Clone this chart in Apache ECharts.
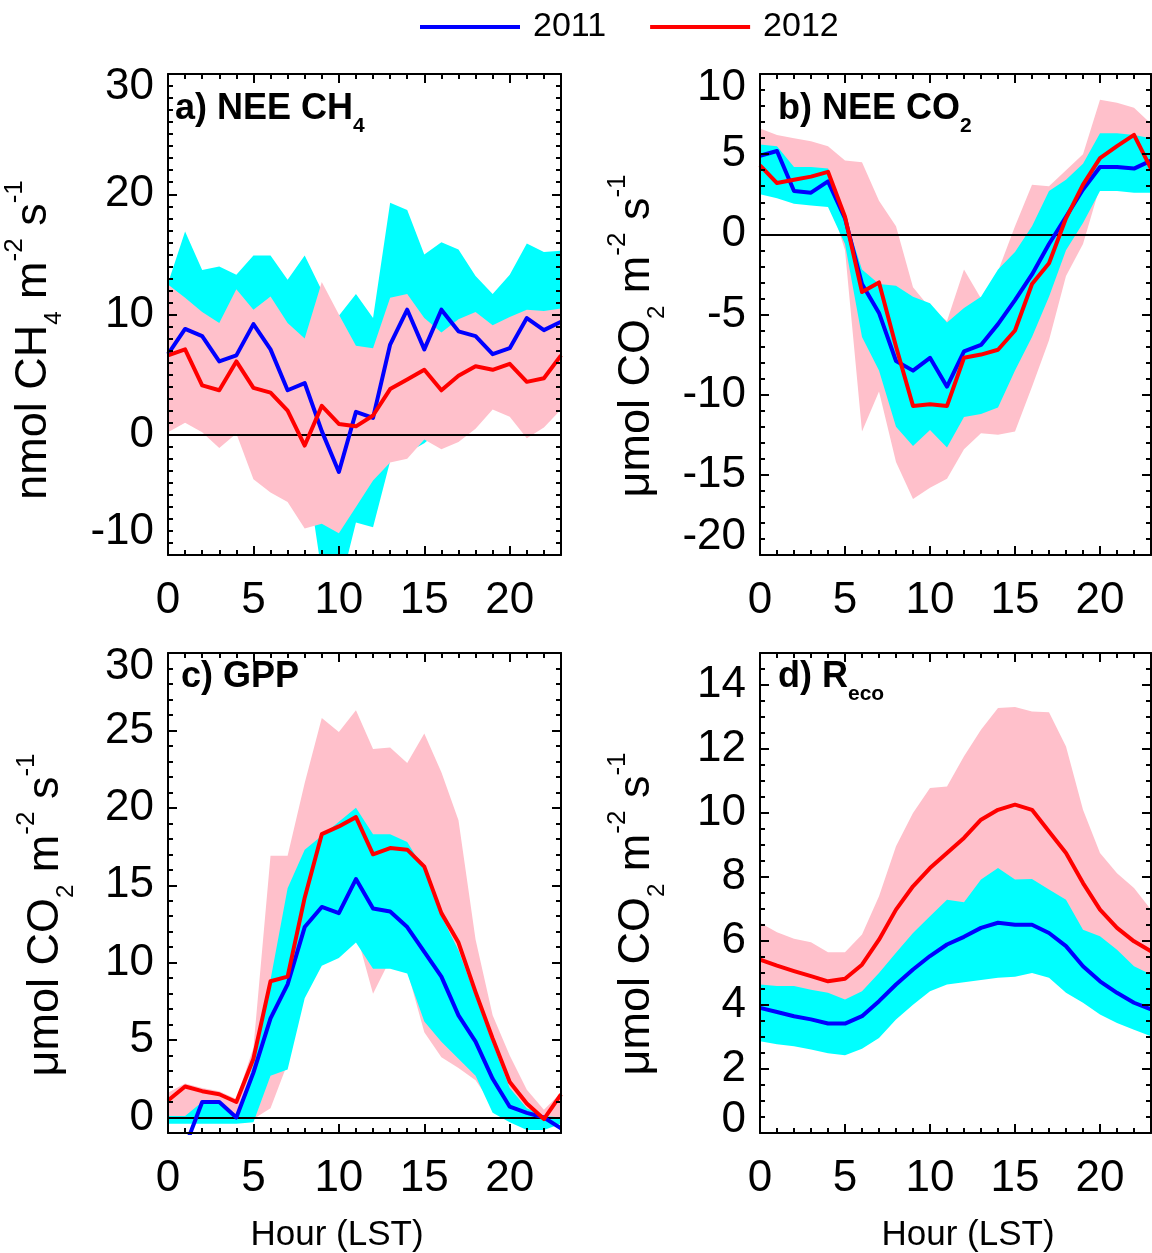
<!DOCTYPE html>
<html>
<head>
<meta charset="utf-8">
<script src="https://cdn.jsdelivr.net/npm/echarts@6/dist/echarts.min.js"></script>
<style>
html, body { margin: 0; padding: 0; background: #fff; }
#main { width: 1152px; height: 1253px; }
</style>
</head>
<body>
<div id="main"></div>
<script>
// hour of day (LST)
var hours = [0,1,2,3,4,5,6,7,8,9,10,11,12,13,14,15,16,17,18,19,20,21,22,23];

// a) NEE CH4, nmol m-2 s-1
var ch4Mean2011 = [6.7,8.8,8.2,6.1,6.6,9.2,7.1,3.7,4.3,0.3,-3.1,1.9,1.4,7.5,10.4,7.1,10.4,8.6,8.2,6.7,7.2,9.7,8.7,9.4];
var ch4Mean2012 = [6.6,7.1,4.1,3.7,6.1,3.9,3.5,2.0,-0.9,2.4,0.9,0.7,1.6,3.8,4.6,5.4,3.7,4.9,5.7,5.4,5.9,4.4,4.7,6.6];
var ch4Hi2011 = [12.6,16.9,13.7,14.0,13.3,14.9,14.9,12.9,14.9,12.0,9.9,11.7,9.7,19.3,18.7,15.0,16.0,15.4,13.2,11.7,13.3,15.9,15.2,15.3];
var ch4Lo2011 = [2.5,3.0,2.5,1.0,1.5,1.0,0.0,-3.0,-2.0,-11.5,-13.0,-7.3,-7.7,-2.2,-1.5,-0.7,0.5,2.0,2.5,3.0,3.0,3.5,3.0,3.5];
var ch4Hi2012 = [12.5,11.4,10.2,9.3,12.1,10.4,11.5,9.3,8.0,12.7,10.0,7.4,7.2,11.4,11.7,9.7,8.5,9.6,10.2,9.1,9.8,10.4,10.3,10.5];
var ch4Lo2012 = [0.2,1.0,0.2,-1.1,0.1,-3.7,-4.8,-5.6,-7.8,-7.4,-8.2,-6.0,-3.8,-2.3,-2.0,-0.4,-1.2,-0.6,0.5,2.1,1.5,-0.3,0.6,2.1];

// b) NEE CO2, umol m-2 s-1
var neeMean2011 = [4.9,5.2,2.7,2.6,3.3,1.0,-3.1,-4.9,-7.9,-8.5,-7.7,-9.5,-7.3,-6.9,-5.6,-4.1,-2.5,-0.6,1.1,2.8,4.2,4.2,4.1,4.6];
var neeMean2012 = [4.3,3.2,3.4,3.6,3.9,1.1,-3.6,-3.0,-7.0,-10.7,-10.6,-10.7,-7.7,-7.5,-7.2,-6.0,-3.1,-1.8,1.0,3.1,4.75,5.5,6.2,4.1];
var neeHi2011 = [5.6,5.5,4.2,4.2,4.1,1.1,-2.2,-3.1,-3.2,-3.9,-4.3,-5.5,-4.6,-3.9,-2.2,-1.1,0.5,2.7,3.4,4.4,6.3,6.3,6.2,6.0];
var neeLo2011 = [2.5,2.25,1.9,1.8,1.7,-0.6,-6.4,-8.5,-12.0,-13.2,-12.2,-13.3,-11.4,-11.2,-10.8,-8.5,-6.4,-3.9,-1.0,0.7,2.7,2.7,2.6,2.6];
var neeHi2012 = [6.6,6.2,6.0,5.8,5.5,4.6,4.5,2.1,0.5,-3.3,-4.6,-5.4,-2.2,-4.0,-2.3,0.5,3.1,3.0,4.0,5.0,8.4,8.2,7.9,6.9];
var neeLo2012 = [3.0,2.8,2.5,2.5,2.4,-1.0,-12.3,-9.8,-14.2,-16.5,-15.8,-15.25,-13.4,-12.4,-12.5,-12.3,-9.5,-6.6,-2.6,-0.6,3.0,3.5,3.8,3.0];

// c) GPP, umol m-2 s-1
var gppMean2011 = [-1.5,-1.9,1.0,1.0,0.0,2.9,6.4,8.6,12.3,13.6,13.2,15.4,13.5,13.3,12.3,10.7,9.1,6.6,4.9,2.5,0.7,0.3,0.0,-0.7];
var gppMean2012 = [1.1,2.0,1.7,1.5,1.0,3.8,8.8,9.1,14.2,18.3,18.8,19.4,17.0,17.4,17.3,16.2,13.2,11.3,8.1,5.1,2.3,0.9,-0.1,1.5];
var gppHi2011 = [0.1,0.1,1.0,1.0,0.1,3.4,8.9,14.8,17.3,18.2,19.1,20.0,18.3,18.3,17.8,16.0,13.0,10.8,7.8,4.8,1.9,0.6,0.1,0.0];
var gppLo2011 = [-0.4,-0.4,-0.4,-0.4,-0.4,-0.3,2.7,3.1,7.7,9.8,10.3,11.3,9.6,9.6,9.3,6.2,4.9,3.8,2.7,0.3,-0.3,-0.8,-0.8,-0.4];
var gppHi2012 = [1.6,2.2,1.9,1.7,1.2,4.5,16.9,16.9,21.6,25.8,24.9,26.3,23.8,23.9,22.9,24.8,22.3,19.2,11.5,6.6,4.0,1.8,0.5,1.6];
var gppLo2012 = [0.0,0.0,0.0,0.0,0.0,-0.1,0.6,3.5,8.0,10.0,10.5,12.0,8.0,10.2,9.5,5.5,3.9,3.2,2.4,0.8,0.0,-0.2,-0.3,0.0];

// d) Reco, umol m-2 s-1
var recoMean2011 = [3.91,3.78,3.65,3.55,3.42,3.42,3.65,4.12,4.64,5.11,5.53,5.89,6.13,6.41,6.57,6.51,6.51,6.25,5.84,5.21,4.74,4.38,4.07,3.86];
var recoMean2012 = [5.42,5.23,5.06,4.90,4.74,4.82,5.26,6.04,6.98,7.71,8.28,8.75,9.22,9.79,10.10,10.26,10.10,9.42,8.75,7.81,6.98,6.41,5.99,5.68];
var recoHi2011 = [4.64,4.59,4.59,4.48,4.38,4.17,4.43,5.0,5.63,6.25,6.77,7.29,7.21,7.92,8.28,7.92,7.94,7.61,7.29,6.35,6.15,5.73,5.21,4.95];
var recoLo2011 = [2.87,2.77,2.71,2.61,2.49,2.43,2.63,2.97,3.55,4.01,4.43,4.64,4.71,4.78,4.85,4.88,5.0,4.85,4.38,4.07,3.70,3.44,3.23,3.02];
var recoHi2012 = [6.57,6.27,6.07,5.96,5.65,5.65,6.20,7.40,8.96,10.0,10.78,10.83,11.77,12.60,13.28,13.31,13.17,13.15,12.08,10.10,8.75,8.12,7.66,6.98];
var recoLo2012 = [4.3,4.2,4.1,4.0,3.9,3.8,4.1,4.6,5.2,5.6,6.0,6.3,6.5,6.8,7.0,7.1,7.0,6.8,6.4,5.8,5.4,5.0,4.7,4.4];

// tick labels
var xTicks = [0, 5, 10, 15, 20];
var yTicksA = [-10, 0, 10, 20, 30];
var yTicksB = [-20, -15, -10, -5, 0, 5, 10];
var yTicksC = [0, 5, 10, 15, 20, 25, 30];
var yTicksD = [0, 2, 4, 6, 8, 10, 12, 14];

var FONT = '"Liberation Sans", Arial, Helvetica, sans-serif';
var C2011 = '#0000ff', C2012 = '#ff0000', BAND2011 = '#00ffff', BAND2012 = '#ffc0cb';

function range(a, b, step) {
	var out = [];
	for (var v = a; v <= b + 1e-9; v += step) out.push(Math.round(v * 100) / 100);
	return out;
}

// one entry per panel
var panels = [
	{ grid: {left: 168, top: 74, width: 393, height: 481}, yMin: -10, yMax: 30, yTicks: yTicksA, yMinor: 1, padTop: 26, padBot: 46,
	  m11: ch4Mean2011, m12: ch4Mean2012, hi11: ch4Hi2011, lo11: ch4Lo2011, hi12: ch4Hi2012, lo12: ch4Lo2012, pinkOnTop: true },
	{ grid: {left: 760, top: 74, width: 391, height: 481}, yMin: -20, yMax: 10, yTicks: yTicksB, yMinor: 1, padTop: 28, padBot: 37,
	  m11: neeMean2011, m12: neeMean2012, hi11: neeHi2011, lo11: neeLo2011, hi12: neeHi2012, lo12: neeLo2012 },
	{ grid: {left: 168, top: 653, width: 393, height: 480}, yMin: -1, yMax: 30, yTicks: yTicksC, yMinor: 1, padTop: 27, padBot: 0,
	  m11: gppMean2011, m12: gppMean2012, hi11: gppHi2011, lo11: gppLo2011, hi12: gppHi2012, lo12: gppLo2012 },
	{ grid: {left: 760, top: 653, width: 391, height: 480}, yMin: 0, yMax: 15, yTicks: yTicksD, yMinor: 0.5, padTop: 0, padBot: 27,
	  m11: recoMean2011, m12: recoMean2012, hi11: recoHi2011, lo11: recoLo2011, hi12: recoHi2012, lo12: recoLo2012 }
];

function labelStyle(extra) {
	var s = {fontSize: 44, fontFamily: FONT, color: '#000'};
	for (var k in extra) s[k] = extra[k];
	return s;
}

// major+minor axes on both sides, only the first one carries labels
function makeAxes(dim, gi, min, max, majors, minors, label) {
	var sides = dim === 'x' ? ['bottom', 'top'] : ['left', 'right'];
	var list = [];
	sides.forEach(function (pos, si) {
		[[majors, 9, true], [minors, 5, false]].forEach(function (t, ti) {
			list.push({
				type: 'value', gridIndex: gi, position: pos, min: min, max: max, z: 20,
				axisLine: {show: t[2], onZero: false, lineStyle: {color: '#000', width: 2}},
				splitLine: {show: false},
				axisTick: {show: true, inside: true, length: t[1], customValues: t[0], lineStyle: {color: '#000', width: 2}},
				axisLabel: (si === 0 && ti === 0) ? label : {show: false}
			});
		});
	});
	return list;
}

var xAxes = [], yAxes = [], series = [];

panels.forEach(function (p, gi) {
	xAxes = xAxes.concat(makeAxes('x', gi, 0, 23, xTicks, range(0, 23, 1), {
		show: true, customValues: xTicks, margin: 24, fontSize: 44, fontFamily: FONT, color: '#000'
	}));
	yAxes = yAxes.concat(makeAxes('y', gi, p.yMin, p.yMax, p.yTicks, range(p.yMin, p.yMax, p.yMinor), {
		show: true, customValues: p.yTicks, margin: 14, fontSize: 44, fontFamily: FONT, color: '#000',
		formatter: function (v) {
			if (v === p.yMax && p.padTop) return '{t|' + v + '}';
			if (v === p.yMin && p.padBot) return '{b|' + v + '}';
			return '{n|' + v + '}';
		},
		rich: {
			n: labelStyle({}),
			t: labelStyle({padding: [p.padTop, 0, 0, 0]}),
			b: labelStyle({padding: [0, 0, p.padBot, 0]})
		}
	}));

	// spread band between lo and hi, drawn as one clipped polygon
	function band(lo, hi, color) {
		return {
			type: 'custom', xAxisIndex: gi * 4, yAxisIndex: gi * 4, silent: true, z: 2,
			data: hours.map(function (h, i) { return [h, lo[i], hi[i]]; }),
			encode: {x: 0, y: [1, 2]},
			renderItem: function (params, api) {
				if (params.dataIndex !== 0) return null;
				var pts = [];
				for (var i = 0; i < hours.length; i++) pts.push(api.coord([hours[i], hi[i]]));
				for (var j = hours.length - 1; j >= 0; j--) pts.push(api.coord([hours[j], lo[j]]));
				var cs = params.coordSys;
				return {
					type: 'polygon', shape: {points: pts}, style: {fill: color, stroke: null},
					clipPath: {type: 'rect', shape: {x: cs.x, y: cs.y, width: cs.width, height: cs.height}}
				};
			}
		};
	}
	var cyan = band(p.lo11, p.hi11, BAND2011);
	var pink = band(p.lo12, p.hi12, BAND2012);
	series = series.concat(p.pinkOnTop ? [cyan, pink] : [pink, cyan]);

	function meanLine(name, vals, color, withZero) {
		var s = {
			type: 'line', name: name, xAxisIndex: gi * 4, yAxisIndex: gi * 4, z: 10,
			data: vals.map(function (v, i) { return [hours[i], v]; }),
			symbol: 'none', lineStyle: {color: color, width: 4, join: 'round'}, itemStyle: {color: color}
		};
		if (withZero) {
			s.markLine = {silent: true, symbol: ['none', 'none'], label: {show: false},
				lineStyle: {color: '#000', width: 1.8, type: 'solid'}, data: [{yAxis: 0}]};
		}
		return s;
	}
	series.push(meanLine('2011', p.m11, C2011, true));
	series.push(meanLine('2012', p.m12, C2012, false));
});

// texts: axis titles, panel labels
var titleRich = {
	m: {fontSize: 45, fontFamily: FONT, lineHeight: 64, fill: '#000'},
	sup: {fontSize: 26, fontFamily: FONT, lineHeight: 40, verticalAlign: 'top', fill: '#000'},
	sub: {fontSize: 24, fontFamily: FONT, lineHeight: 22, verticalAlign: 'bottom', fill: '#000'}
};
var panelRich = {
	m: {fontSize: 36, fontFamily: FONT, fontWeight: 'bold', lineHeight: 56, fill: '#000'},
	s: {fontSize: 21, fontFamily: FONT, fontWeight: 'bold', lineHeight: 20, verticalAlign: 'bottom', fill: '#000'}
};
var ch4Unit = '{m|nmol CH}{sub|4}{m| m}{sup|-2}{m| s}{sup|-1}';
var co2Unit = '{m|\u03bcmol CO}{sub|2}{m| m}{sup|-2}{m| s}{sup|-1}';

function richText(x, y, text, rich, align, rot) {
	return {
		type: 'text', x: x, y: y, rotation: rot || 0, silent: true, z: 100,
		style: {text: text, rich: rich, align: align, verticalAlign: 'middle',
			textAlign: align, textVerticalAlign: 'middle', fill: '#000'}
	};
}
function plainText(x, y, text) {
	return {
		type: 'text', x: x, y: y, silent: true, z: 100,
		style: {text: text, font: '35px ' + FONT, align: 'center', verticalAlign: 'middle',
			textAlign: 'center', textVerticalAlign: 'middle', fill: '#000'}
	};
}

var graphics = [
	richText(34, 340, ch4Unit, titleRich, 'center', Math.PI / 2),
	richText(637, 336, co2Unit, titleRich, 'center', Math.PI / 2),
	richText(46, 915, co2Unit, titleRich, 'center', Math.PI / 2),
	richText(637, 914, co2Unit, titleRich, 'center', Math.PI / 2),
	richText(175, 109, '{m|a) NEE CH}{s|4}', panelRich, 'left'),
	richText(778, 109, '{m|b) NEE CO}{s|2}', panelRich, 'left'),
	richText(181, 677, '{m|c) GPP}', panelRich, 'left'),
	richText(778, 677, '{m|d) R}{s|eco}', panelRich, 'left'),
	plainText(337, 1235, 'Hour (LST)'),
	plainText(968, 1235, 'Hour (LST)')
];

var option = {
	animation: false,
	backgroundColor: '#fff',
	legend: {
		left: 420, top: 10, padding: 0,
		icon: 'rect', itemWidth: 100, itemHeight: 4, itemGap: 44,
		textStyle: {fontSize: 34, fontFamily: FONT, color: '#000', padding: [0, 0, 0, 8]},
		data: ['2011', '2012']
	},
	grid: panels.map(function (p) { return Object.assign({show: false}, p.grid); }),
	xAxis: xAxes,
	yAxis: yAxes,
	series: series,
	graphic: graphics
};

var myChart = echarts.init(document.getElementById('main'));
myChart.setOption(option);
</script>
</body>
</html>
